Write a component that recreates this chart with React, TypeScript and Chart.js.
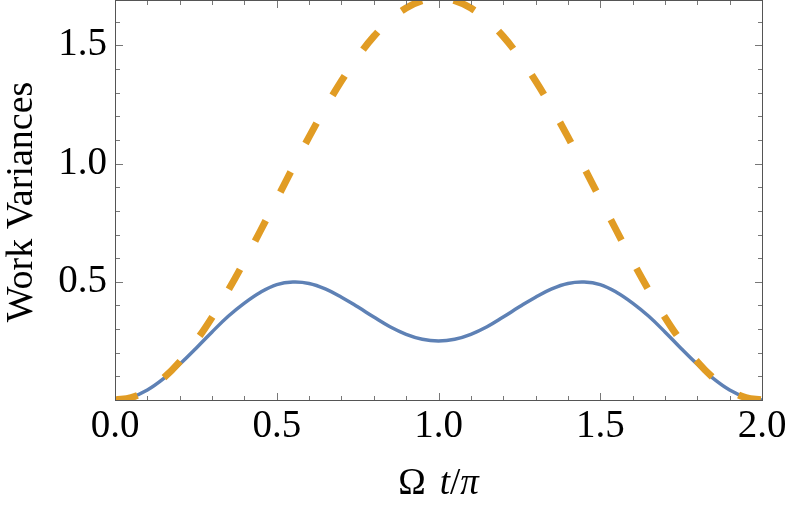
import React, { useEffect, useRef } from "react";
import { Chart, registerables } from "chart.js";

Chart.register(...registerables);

// Ω t/π values
const xValues = [
  0, 0.05, 0.1, 0.15, 0.2, 0.25, 0.3, 0.35, 0.4, 0.45, 0.5, 0.55, 0.6, 0.65, 0.7, 0.75, 0.8, 0.85, 0.9, 0.95,
  1.0, 1.05, 1.1, 1.15, 1.2, 1.25, 1.3, 1.35, 1.4, 1.45, 1.5, 1.55, 1.6, 1.65, 1.7, 1.75, 1.8, 1.85, 1.9, 1.95, 2.0,
];

// solid blue curve
const blueValues = [
  0, 0.011, 0.042, 0.09, 0.151, 0.218, 0.288, 0.354, 0.41, 0.456, 0.488, 0.499, 0.493, 0.47, 0.435, 0.394,
  0.351, 0.31, 0.278, 0.257, 0.25, 0.257, 0.278, 0.31, 0.351, 0.394, 0.435, 0.47, 0.493, 0.499, 0.488, 0.456,
  0.41, 0.354, 0.288, 0.218, 0.151, 0.09, 0.042, 0.011, 0,
];

// dashed orange curve
const orangeValues = [
  0, 0.01, 0.042, 0.093, 0.162, 0.249, 0.35, 0.464, 0.587, 0.717, 0.85, 0.983, 1.113, 1.236, 1.35, 1.451, 1.538,
  1.607, 1.658, 1.689, 1.7, 1.689, 1.658, 1.607, 1.538, 1.451, 1.35, 1.236, 1.113, 0.983, 0.85, 0.717, 0.587,
  0.464, 0.35, 0.249, 0.162, 0.093, 0.042, 0.01, 0,
];

const xTickLabels = ["0.0", "0.5", "1.0", "1.5", "2.0"];
const xTickValues = [0, 0.5, 1.0, 1.5, 2.0];
const yTickLabels = ["0.5", "1.0", "1.5"];
const yTickValues = [0.5, 1.0, 1.5];
const xMinorValues = [0.1, 0.2, 0.3, 0.4, 0.6, 0.7, 0.8, 0.9, 1.1, 1.2, 1.3, 1.4, 1.6, 1.7, 1.8, 1.9];
const yMinorValues = [0.1, 0.2, 0.3, 0.4, 0.6, 0.7, 0.8, 0.9, 1.1, 1.2, 1.3, 1.4, 1.6];

const yTitle = "Work Variances";

const SERIF = '"Liberation Serif", "Times New Roman", serif';

const framePlugin = {
  id: "mmaFrame",
  afterDraw(chart: any) {
    const { ctx, chartArea, scales } = chart;
    const xs = scales.x;
    const ys = scales.y;
    const L = 115.5;
    const R = 762.5;
    const T = 0.5;
    const B = 400.5;
    ctx.save();
    // ticks
    ctx.strokeStyle = "#777";
    ctx.lineWidth = 1;
    ctx.beginPath();
    const xt = (v: number, len: number) => {
      const p = Math.round(xs.getPixelForValue(v)) + 0.5;
      ctx.moveTo(p, B);
      ctx.lineTo(p, B - len);
      ctx.moveTo(p, T);
      ctx.lineTo(p, T + len);
    };
    const yt = (v: number, len: number) => {
      const p = Math.round(ys.getPixelForValue(v)) + 0.5;
      ctx.moveTo(L, p);
      ctx.lineTo(L + len, p);
      ctx.moveTo(R, p);
      ctx.lineTo(R - len, p);
    };
    xTickValues.forEach((v) => xt(v, 7.5));
    xMinorValues.forEach((v) => xt(v, 4.5));
    yTickValues.forEach((v) => yt(v, 7.5));
    yMinorValues.forEach((v) => yt(v, 4.5));
    ctx.stroke();
    // frame
    ctx.strokeStyle = "#555";
    ctx.strokeRect(L, T, R - L, B - T);

    // tick labels
    ctx.fillStyle = "#000";
    ctx.font = `39px ${SERIF}`;
    ctx.textBaseline = "alphabetic";
    ctx.textAlign = "center";
    xTickValues.forEach((v, i) => {
      ctx.fillText(xTickLabels[i], xs.getPixelForValue(v), 437);
    });
    ctx.textAlign = "right";
    yTickValues.forEach((v, i) => {
      ctx.fillText(yTickLabels[i], 107, ys.getPixelForValue(v) + 10);
    });

    // x title: Ω t/π
    const parts = [
      { t: "\u03A9", italic: false, gap: 14 },
      { t: "t", italic: true, gap: 0 },
      { t: "/", italic: false, gap: 0 },
      { t: "\u03C0", italic: true, gap: 0 },
    ];
    const setF = (it: boolean) => {
      ctx.font = `${it ? "italic " : ""}37px ${SERIF}`;
    };
    let total = 0;
    parts.forEach((p) => {
      setF(p.italic);
      total += ctx.measureText(p.t).width + p.gap;
    });
    let cx = (chartArea.left + chartArea.right) / 2 - total / 2;
    ctx.textAlign = "left";
    parts.forEach((p) => {
      setF(p.italic);
      ctx.fillText(p.t, cx, 494);
      cx += ctx.measureText(p.t).width + p.gap;
    });

    // y title
    ctx.save();
    ctx.translate(32, 202);
    ctx.rotate(-Math.PI / 2);
    ctx.font = `38px ${SERIF}`;
    ctx.textAlign = "center";
    ctx.fillText(yTitle, 0, 0);
    ctx.restore();

    ctx.restore();
  },
};

export default function App() {
  const ref = useRef<HTMLCanvasElement | null>(null);
  useEffect(() => {
    if (!ref.current) return;
    const chart = new Chart(ref.current, {
      type: "line",
      data: {
        datasets: [
          {
            label: "orange",
            data: xValues.map((x, i) => ({ x, y: orangeValues[i] })),
            borderColor: "#E19C24",
            borderWidth: 7,
            borderDash: [23, 32],
            pointRadius: 0,
            tension: 0.4,
            fill: false,
            order: 0,
          },
          {
            label: "blue",
            data: xValues.map((x, i) => ({ x, y: blueValues[i] })),
            borderColor: "#5E81B5",
            borderWidth: 3.5,
            pointRadius: 0,
            tension: 0.4,
            fill: false,
            order: 1,
          },
        ],
      },
      options: {
        responsive: false,
        animation: false,
        devicePixelRatio: 1,
        layout: { padding: { left: 115, right: 27, top: 0.5, bottom: 107 } },
        plugins: { legend: { display: false }, tooltip: { enabled: false } },
        scales: {
          x: { type: "linear", min: 0, max: 2, display: false },
          y: { type: "linear", min: 0, max: 1.69, display: false },
        },
      },
      plugins: [framePlugin],
    } as any);
    return () => chart.destroy();
  }, []);
  return (
    <div style={{ position: "fixed", left: 0, top: 0, width: 789, height: 507, background: "#fff" }}>
      <canvas ref={ref} width={789} height={507} style={{ display: "block" }} />
    </div>
  );
}
